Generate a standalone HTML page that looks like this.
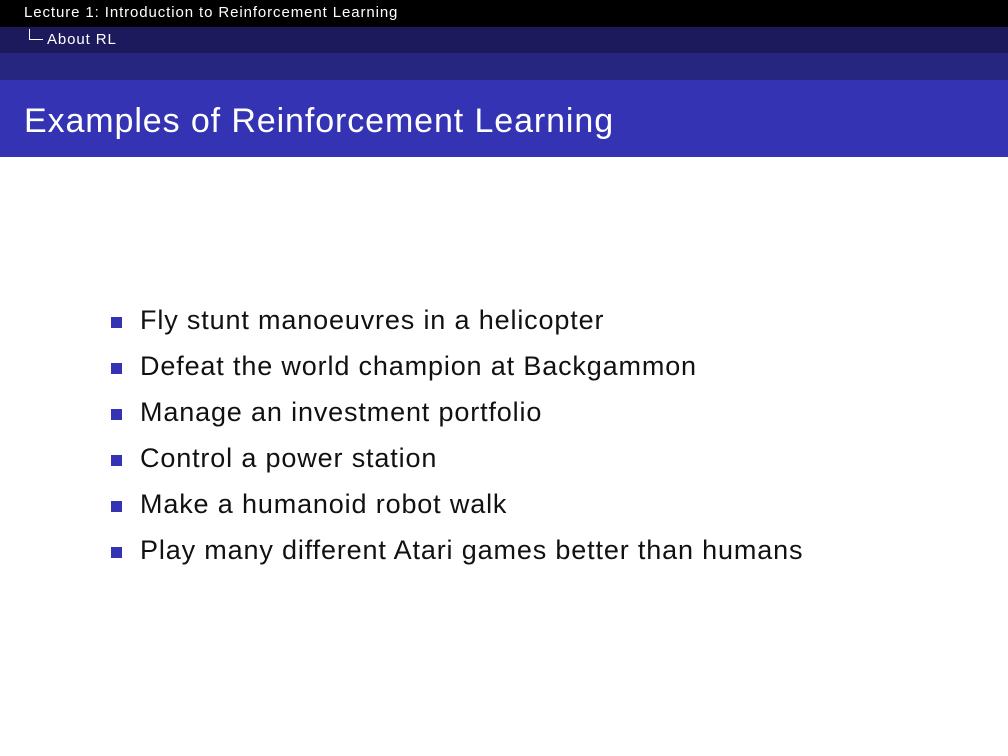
<!DOCTYPE html>
<html><head><meta charset="utf-8"><style>
body{margin:0;width:1008px;height:756px;background:#fff;position:relative;overflow:hidden;font-family:"Liberation Sans",sans-serif;}
.b{position:absolute;left:0;width:1008px}
ul{position:absolute;left:111px;top:301px;margin:0;padding:0;list-style:none}
li{position:relative;height:46px;line-height:38px;font-size:27px;letter-spacing:0.85px;color:#111;padding-left:29px;white-space:nowrap}
li::before{content:"";position:absolute;left:0;top:16px;width:11px;height:11px;background:#3333b3}
</style></head><body>
<div class="b" style="top:0;height:27px;background:#000;color:#fff;font-size:15px;letter-spacing:0.9px;line-height:26px;padding-left:24px;box-sizing:border-box">Lecture 1: Introduction to Reinforcement Learning</div>
<div class="b" style="top:27px;height:26px;background:#1c1a5c;color:#fff;font-size:15px;letter-spacing:0.9px;line-height:26px">
<span style="position:absolute;left:29px;top:2px;width:13px;height:10px;border-left:1px solid #fff;border-bottom:1px solid #fff"></span>
<span style="position:absolute;left:47px;top:0">About RL</span></div>
<div class="b" style="top:53px;height:27px;background:#262680"></div>
<div class="b" style="top:80px;height:77px;background:#3333b3;color:#fff;font-size:34px;letter-spacing:0.9px;line-height:82px;padding-left:24px;box-sizing:border-box">Examples of Reinforcement Learning</div>
<ul>
<li>Fly stunt manoeuvres in a helicopter</li>
<li>Defeat the world champion at Backgammon</li>
<li>Manage an investment portfolio</li>
<li>Control a power station</li>
<li>Make a humanoid robot walk</li>
<li>Play many different Atari games better than humans</li>
</ul>
</body></html>
